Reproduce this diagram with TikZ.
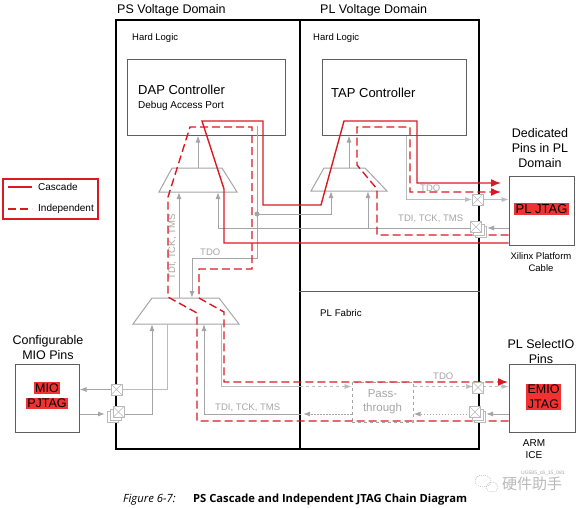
\documentclass[tikz,border=0pt]{standalone}
\usepackage{fontspec}
\setmainfont{Liberation Sans}
\newfontfamily\capfont{Open Sans}
\newfontfamily\cjkfont{Noto Sans CJK SC}
\usetikzlibrary{arrows.meta}
\definecolor{jtagred}{RGB}{220,25,35}
\definecolor{hilite}{RGB}{242,50,50}
\definecolor{siggray}{RGB}{165,165,165}
\definecolor{boxgray}{RGB}{95,95,95}
\definecolor{bufgray}{RGB}{185,185,185}

\begin{document}
\begin{tikzpicture}[x=1pt,y=-1pt,>={Latex[length=7pt,width=5pt]},
	txt/.style={inner sep=0},
	domainbox/.style={draw=black,line width=1.6pt,inner sep=0},
	block/.style={draw=boxgray,line width=1pt,inner sep=0},
	muxshape/.style={draw=siggray,line width=1pt},
	sig/.style={draw=siggray,line width=1pt},
	sigthin/.style={draw=siggray!75,line width=0.7pt},
	cascade/.style={draw=jtagred,line width=1.4pt},
	indep/.style={draw=jtagred,line width=1.4pt,dash pattern=on 8pt off 4pt},
	redtip/.style={-{Latex[length=10pt,width=8pt]}},
	plainbuf/.style={draw=bufgray,fill=white,line width=0.8pt,minimum size=11pt,inner sep=0},
	iobuf/.style={plainbuf,path picture={\draw[bufgray,line width=0.5pt] (path picture bounding box.north west)--(path picture bounding box.south east) (path picture bounding box.north east)--(path picture bounding box.south west);}},
	hilitebox/.style={fill=hilite,inner sep=1.5pt},
	siglbl/.style={txt,text=siggray,font=\fontsize{9.5}{11}\selectfont}]
	\useasboundingbox (0,0) rectangle (576,507);

	\node[domainbox,minimum width=184pt,minimum height=429pt] (ps) at (208,234.5) {};
	\node[domainbox,minimum width=179pt,minimum height=429pt] (pl) at (389.5,234.5) {};
	\draw[boxgray,line width=1pt] (pl.west |- 0,291) -- (pl.east |- 0,291);
	\node[txt,anchor=base west,font=\fontsize{12.5}{15}\selectfont] at (117,13) {PS Voltage Domain};
	\node[txt,anchor=base west,font=\fontsize{12.5}{15}\selectfont] at (320,13) {PL Voltage Domain};
	\node[txt,anchor=base west,font=\fontsize{9.5}{11}\selectfont] at (132,40) {Hard Logic};
	\node[txt,anchor=base west,font=\fontsize{9.5}{11}\selectfont] at (313,40) {Hard Logic};
	\node[txt,anchor=base west,font=\fontsize{9.7}{11}\selectfont] at (320,316) {PL Fabric};

	\node[block,minimum width=158pt,minimum height=76pt] (dap) at (206,97) {};
	\node[txt,anchor=base west,font=\fontsize{13}{15}\selectfont] at (138,94) {DAP Controller};
	\node[txt,anchor=base west,font=\fontsize{10}{12}\selectfont] at (138,108) {Debug Access Port};
	\node[block,minimum width=144pt,minimum height=76pt] (tap) at (394,97) {};
	\node[txt,anchor=base west,font=\fontsize{13}{15}\selectfont] at (331,97) {TAP Controller};

	\draw[muxshape] (172,168) -- (222,168) -- (237,192) -- (159,192) -- cycle;
	\draw[muxshape] (324,168) -- (365,168) -- (387,191) -- (311,191) -- cycle;
	\draw[muxshape] (152,298) -- (219,298) -- (239,324) -- (133,324) -- cycle;

	\node[block,minimum width=65pt,minimum height=69pt] (pljtag) at (541.5,210.5) {};
	\node[hilitebox,font=\fontsize{13}{15}\selectfont] at (541.5,209) {PL JTAG};
	\node[txt,anchor=north,align=center,font=\fontsize{12.5}{15}\selectfont] at (540,128) {Dedicated\\Pins in PL\\Domain};
	\node[txt,anchor=north,align=center,font=\fontsize{9.5}{11.5}\selectfont] at (541,252.5) {Xilinx Platform\\Cable};
	\node[block,minimum width=66pt,minimum height=68pt] (emiojtag) at (542,398) {};
	\node[hilitebox,align=center,font=\fontsize{12.5}{15}\selectfont] at (543.5,397) {EMIO\\JTAG};
	\node[txt,anchor=north,align=center,font=\fontsize{12.5}{15}\selectfont] at (541,339) {PL SelectIO\\Pins};
	\node[txt,anchor=north,align=center,font=\fontsize{10}{12}\selectfont] at (534,439) {ARM\\ICE};
	\node[block,minimum width=64pt,minimum height=68pt] (miojtag) at (47,398) {};
	\node[hilitebox,font=\fontsize{12.5}{15}\selectfont] at (47,388) {MIO};
	\node[hilitebox,font=\fontsize{12.5}{15}\selectfont] at (47,403.5) {PJTAG};
	\node[txt,anchor=north,align=center,font=\fontsize{12.5}{15}\selectfont] at (48,335) {Configurable\\MIO Pins};
	\node[draw=siggray,dashed,line width=1pt,minimum width=61pt,minimum height=40pt,text=siggray,align=center,font=\fontsize{11.5}{14}\selectfont] (pass) at (382.5,402) {Pass-\\through};

	\draw[sig,->] (198,168) -- (dap.south -| 198,0);
	\draw[sig,->] (349,168) -- (tap.south -| 349,0);
	\draw[sig,->] (257,126) |- (192,258) -- (192,298);
	\node[siglbl,anchor=base west] at (200,255) {TDO};
	\fill[siggray] (257,214) circle (2.5pt);
	\draw[sig,->] (257,214) -| (331,191);
	\draw[sig,->] (pljtag.west |- 0,228) -- (487,228);
	\draw[sig] (471,228) -- (218,228);
	\draw[sig,->] (218,228) -- (218,192);
	\draw[sig,->] (368,228) -- (368,191);
	\node[siglbl,anchor=base west] at (398,221) {TDI, TCK, TMS};
	\draw[sig,->] (179,298) -- (179,192);
	\node[siglbl,rotate=90] at (172.5,247) {TDI, TCK, TMS};
	\draw[sigthin,->] (tap.south -| 406,0) |- (472,199.5);
	\draw[sigthin,->] (483,199.5) -- (pljtag.west |- 0,199.5);
	\node[siglbl,anchor=base west] at (420,191) {TDO};

	\draw[sigthin] (167,324) |- (122,389.5);
	\draw[sig,->] (111,389.5) -- (miojtag.east |- 0,389.5);
	\draw[sig,->] (miojtag.east |- 0,414) -- (105,414);
	\draw[sig,->] (124,414) -| (152,324);
	\draw[sigthin] (221,324) |- (300,386.5);
	\draw[sigthin,dashed,->] (300,386.5) -- (pass.west |- 0,386.5);
	\draw[sigthin,dashed,->] (pass.east |- 0,386.5) -- (473,386.5);
	\draw[sigthin,dashed,->] (483,386.5) -- (emiojtag.west |- 0,386.5);
	\node[siglbl,anchor=base west] at (433,379) {TDO};
	\draw[sig,->] (emiojtag.west |- 0,414) -- (486,414);
	\draw[sig,dash pattern=on 1.5pt off 1.5pt,->] (470,414) -- (pass.east |- 0,414);
	\draw[sig,dash pattern=on 1.5pt off 1.5pt,->] (pass.west |- 0,414) -- (303,414);
	\draw[sig,->] (301,414) -| (204,324);
	\node[siglbl,anchor=base west] at (215,410) {TDI, TCK, TMS};

	\draw[cascade,redtip] (pljtag.west |- 0,243) -- (224,243) -- (224,189) -- (202,121) -- (263,121) -- (263,205) -- (321,205) -- (344,121) -- (417,121) -- (417,183) -- (501,183);
	\draw[indep,redtip] (pljtag.west |- 0,235) -- (377,235) -- (377,189) -- (357,165) -- (357,127) -- (410,127) -- (410,192) -- (501,192);
	\draw[indep,redtip] (emiojtag.west |- 0,421) -- (197,421) -- (197,313) -- (168,297) -- (168,197) -- (190,127) -- (252,127) -- (252,269) -- (199,269) -- (199,298) -- (224,312) -- (224,382) -- (508,382);

	\node[iobuf] (bto) at (477.5,199.5) {};
	\node[plainbuf] at (481,232) {};
	\node[plainbuf] at (478.5,229.5) {};
	\node[iobuf] (bti) at (476,227) {};
	\node[iobuf] (bmo) at (116.5,389.5) {};
	\node[plainbuf] at (113,417) {};
	\node[plainbuf] at (115.5,414.5) {};
	\node[iobuf] (bmi) at (118.5,412) {};
	\node[iobuf] (beo) at (478,387.5) {};
	\node[plainbuf] at (480,417) {};
	\node[plainbuf] at (477.5,414.5) {};
	\node[iobuf] (bei) at (475,412) {};

	\node[draw=jtagred,line width=2pt,minimum width=95pt,minimum height=40pt,inner sep=0] (legend) at (50,198.5) {};
	\draw[cascade] (8,187) -- (32,187);
	\node[txt,anchor=west,font=\fontsize{10}{12}\selectfont] at (38,186.5) {Cascade};
	\draw[indep] (8,209) -- (32,209);
	\node[txt,anchor=west,font=\fontsize{10}{12}\selectfont] at (38,209) {Independent};

	\node[txt,anchor=base west,font=\capfont\itshape\fontsize{11.3}{13}\selectfont] at (123,502) {Figure 6-7:};
	\node[txt,anchor=base west,font=\capfont\bfseries\fontsize{11.2}{13}\selectfont] at (193,502) {PS Cascade and Independent JTAG Chain Diagram};
	\node[txt,anchor=base west,text=siggray,font=\fontsize{5}{6}\selectfont] at (521,474) {UG585\_c6\_15\_081};
	\draw[siggray,dash pattern=on 1pt off 1pt] (483,481) ellipse (8pt and 6pt);
	\draw[siggray,dash pattern=on 1pt off 1pt] (492,487) ellipse (6pt and 5pt);
	\node[txt,anchor=base west,text=bufgray,font=\cjkfont\fontsize{15}{17}\selectfont] at (502,489) {硬件助手};
\end{tikzpicture}
\end{document}
